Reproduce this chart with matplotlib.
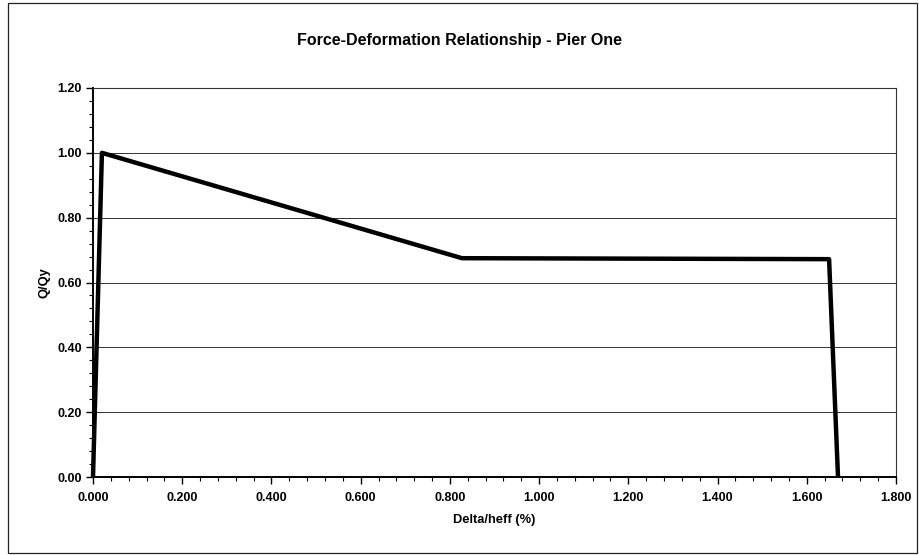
import matplotlib
matplotlib.use("Agg")
import matplotlib.pyplot as plt
from matplotlib.ticker import MultipleLocator, FormatStrFormatter
from matplotlib.patches import Rectangle

plt.rcParams['font.family'] = ['Liberation Sans', 'DejaVu Sans']

# Backbone curve of the pier: normalised drift vs normalised force
drift = [0.000, 0.020, 0.827, 1.650, 1.670]
force = [0.000, 1.000, 0.675, 0.672, 0.000]

fig = plt.figure(figsize=(9.19, 5.55), dpi=100)
ax = fig.add_axes([93 / 919, 1 - 477 / 555, (896 - 93) / 919, (477 - 88) / 555])

ax.plot(drift, force, color='black', linewidth=3.2, solid_joinstyle='round',
        solid_capstyle='butt', zorder=3, clip_on=False)

ax.set_xlim(0, 1.8)
ax.set_ylim(0, 1.2)
ax.xaxis.set_major_locator(MultipleLocator(0.2))
ax.xaxis.set_minor_locator(MultipleLocator(0.04))
ax.yaxis.set_major_locator(MultipleLocator(0.2))
ax.yaxis.set_minor_locator(MultipleLocator(0.04))
ax.xaxis.set_major_formatter(FormatStrFormatter('%.3f'))
ax.yaxis.set_major_formatter(FormatStrFormatter('%.2f'))

ax.tick_params(axis='both', which='major', direction='out', length=5, width=1,
               labelsize=9, colors='black', pad=3)
ax.tick_params(axis='both', which='minor', direction='out', length=3, width=0.8)
ax.tick_params(axis='x', which='major', pad=6)
for lbl in ax.get_xticklabels() + ax.get_yticklabels():
    lbl.set_fontweight('bold')

ax.grid(axis='y', which='major', color='#333333', linewidth=0.7)
ax.set_axisbelow(True)

for side in ('left', 'bottom'):
    ax.spines[side].set_linewidth(1.4)
for side in ('top', 'right'):
    ax.spines[side].set_linewidth(0.8)
    ax.spines[side].set_color('#333333')

ax.set_xlabel('Delta/heff (%)', fontsize=9.3, fontweight='bold', labelpad=7)
ax.set_ylabel('Q/Qy', fontsize=9.3, fontweight='bold', labelpad=5)

fig.text(0.5, 1 - 40 / 555, 'Force-Deformation Relationship - Pier One',
         ha='center', va='center', fontsize=11.5, fontweight='bold')

# chart-area border
fig.patches.append(Rectangle((8 / 919, 2 / 555), 909 / 919, 550 / 555,
                             transform=fig.transFigure, fill=False,
                             edgecolor='#222222', linewidth=0.9))

fig.savefig('out.png', dpi=100)
